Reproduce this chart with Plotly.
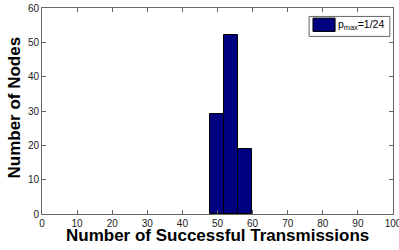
import plotly.graph_objects as go

bin_centers = [49.75, 53.75, 57.75]
node_counts = [29, 52, 19]
bin_width = 4
series_name = "p<sub>max</sub>=1/24"
x_ticks = [0, 10, 20, 30, 40, 50, 60, 70, 80, 90, 100]
y_ticks = [0, 10, 20, 30, 40, 50, 60]
x_title = "Number of Successful Transmissions"
y_title = "Number of Nodes"

BAR_COLOR = "#000080"
AX_COLOR = "#666666"
FONT = "Arial, Liberation Sans, sans-serif"

fig = go.Figure()
fig.add_trace(go.Bar(
    x=bin_centers, y=node_counts, width=bin_width, name=series_name,
    marker=dict(color=BAR_COLOR, line=dict(color="black", width=1)),
    showlegend=False,
))

axis_common = dict(
    showline=True, linecolor=AX_COLOR, linewidth=1, mirror="ticks",
    ticks="inside", ticklen=4, tickcolor=AX_COLOR,
    showgrid=False, zeroline=False, automargin=False,
    ticklabeloverflow="allow",
    tickfont=dict(family=FONT, size=10, color="#222222"),
)

fig.update_layout(
    width=399, height=250,
    margin=dict(l=42, r=6, t=8, b=36),
    paper_bgcolor="white", plot_bgcolor="white",
    bargap=0,
    xaxis=dict(range=[0, 100], tickvals=x_ticks, **axis_common),
    yaxis=dict(range=[0, 60], tickvals=y_ticks, **axis_common),
    annotations=[
        dict(text="<b>" + x_title + "</b>", xref="paper", yref="paper",
             x=0.5, y=-0.105, xanchor="center", yanchor="middle", showarrow=False,
             font=dict(family=FONT, size=17, color="black")),
        dict(text="<b>" + y_title + "</b>", xref="paper", yref="paper",
             x=-0.078, y=0.515, xanchor="center", yanchor="middle", showarrow=False,
             textangle=-90, font=dict(family=FONT, size=17, color="black")),
        dict(text=series_name, xref="paper", yref="paper",
             x=0.838, y=0.917, xanchor="left", yanchor="middle", showarrow=False,
             font=dict(family=FONT, size=10.5, color="black")),
    ],
    shapes=[
        dict(type="rect", xref="paper", yref="paper", x0=0.761, x1=0.991, y0=0.862, y1=0.959,
             line=dict(color=AX_COLOR, width=1), fillcolor="white"),
        dict(type="rect", xref="paper", yref="paper", x0=0.772, x1=0.835, y0=0.886, y1=0.951,
             line=dict(color="black", width=1), fillcolor=BAR_COLOR),
    ],
)

fig.write_html(
    "out.html",
    config={"displayModeBar": False},
    post_script="document.body.style.margin='0';document.body.style.overflow='hidden';",
)
